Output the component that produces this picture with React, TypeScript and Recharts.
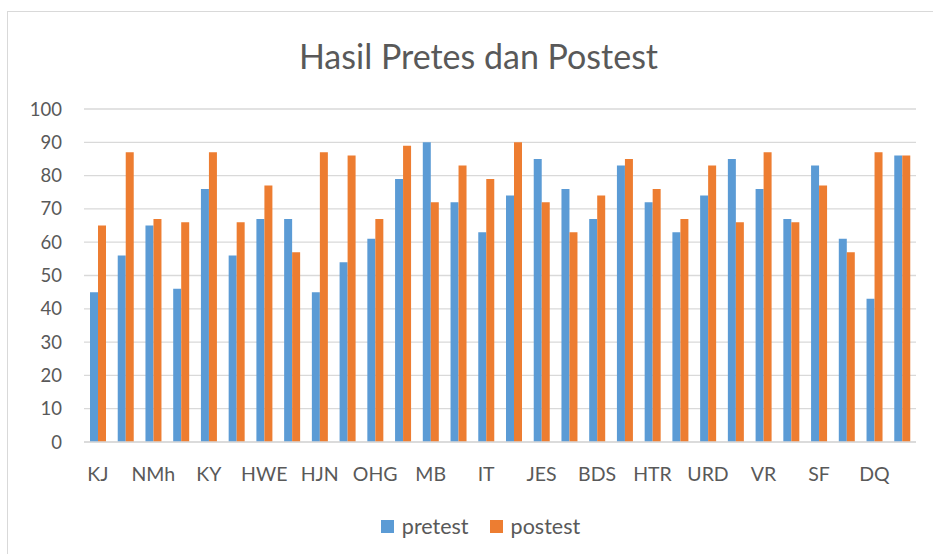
import React from 'react';
import { BarChart, Bar, XAxis, YAxis, CartesianGrid, Legend } from 'recharts';

const students = [
  'KJ', 'AS', 'NMh', 'RP', 'KY', 'DA', 'HWE', 'FN', 'HJN', 'LS',
  'OHG', 'PW', 'MB', 'RA', 'IT', 'SN', 'JES', 'TM', 'BDS', 'YK',
  'HTR', 'AN', 'URD', 'WS', 'VR', 'GL', 'SF', 'EM', 'DQ', 'ZF',
];
const pretest = [
  45, 56, 65, 46, 76, 56, 67, 67, 45, 54,
  61, 79, 90, 72, 63, 74, 85, 76, 67, 83,
  72, 63, 74, 85, 76, 67, 83, 61, 43, 86,
];
const postest = [
  65, 87, 67, 66, 87, 66, 77, 57, 87, 86,
  67, 89, 72, 83, 79, 90, 72, 63, 74, 85,
  76, 67, 83, 66, 87, 66, 77, 57, 87, 86,
];
const yTicks = [0, 10, 20, 30, 40, 50, 60, 70, 80, 90, 100];

const BLUE = '#5b9bd5';
const ORANGE = '#ed7d31';
const TEXT = '#595959';
const FONT = 'Lato, "Open Sans", sans-serif';

const data = students.map((name, i) => ({
  name,
  pretest: pretest[i],
  postest: postest[i],
}));

const LegendContent = () => (
  <div
    style={{
      display: 'flex',
      justifyContent: 'center',
      alignItems: 'center',
      height: 30,
      fontFamily: FONT,
      fontSize: 21.5,
      color: TEXT,
      paddingLeft: 66,
    }}
  >
    {[
      { label: 'pretest', color: BLUE },
      { label: 'postest', color: ORANGE },
    ].map(item => (
      <div key={item.label} style={{ display: 'flex', alignItems: 'center', marginRight: 21 }}>
        <span style={{ width: 13, height: 13, background: item.color, marginRight: 8, display: 'inline-block' }} />
        <span>{item.label}</span>
      </div>
    ))}
  </div>
);

export default function App() {
  return (
    <div style={{ position: 'absolute', left: 0, top: 0, width: 933, height: 554, background: '#fff', overflow: 'hidden' }}>
      <div
        style={{
          position: 'absolute',
          left: 7,
          top: 11,
          width: 960,
          height: 600,
          borderLeft: '1.5px solid #d9d9d9',
          borderTop: '1.5px solid #d9d9d9',
        }}
      />
      <div
        style={{
          position: 'absolute',
          left: 0,
          top: 34,
          width: 957,
          textAlign: 'center',
          fontFamily: FONT,
          fontSize: 34,
          color: TEXT,
          lineHeight: '44px',
        }}
      >
        Hasil Pretes dan Postest
      </div>
      <div style={{ position: 'absolute', left: 0, top: 0 }}>
        <BarChart
          width={933}
          height={554}
          data={data}
          margin={{ top: 109, right: 17, left: 0, bottom: 13 }}
          barGap={0}
          barCategoryGap={6}
        >
          <CartesianGrid vertical={false} stroke="#d9d9d9" strokeWidth={1.3} />
          <XAxis
            dataKey="name"
            interval={1}
            tickLine={false}
            tickSize={0}
            tickMargin={25}
            height={69}
            axisLine={{ stroke: '#d9d9d9', strokeWidth: 1.3 }}
            tick={{ fill: TEXT, fontSize: 19.5, fontFamily: FONT }}
          />
          <YAxis
            domain={[0, 100]}
            ticks={yTicks}
            width={84}
            axisLine={false}
            tickLine={false}
            tickSize={0}
            tickMargin={22}
            tick={{ fill: TEXT, fontSize: 18.5, fontFamily: FONT }}
          />
          <Legend verticalAlign="bottom" height={30} content={<LegendContent />} />
          <Bar dataKey="pretest" name="pretest" fill={BLUE} isAnimationActive={false} />
          <Bar dataKey="postest" name="postest" fill={ORANGE} isAnimationActive={false} />
        </BarChart>
      </div>
    </div>
  );
}
